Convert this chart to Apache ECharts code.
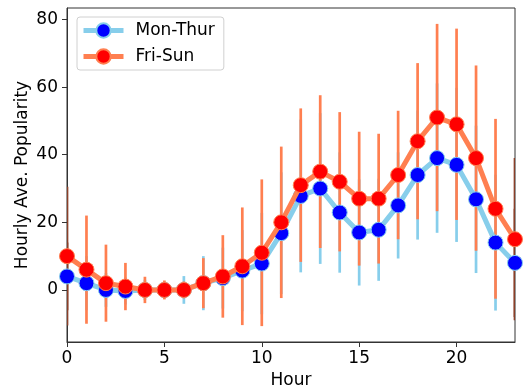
<!DOCTYPE html>
<html><head><meta charset="utf-8">
<script src="https://cdn.jsdelivr.net/npm/echarts@6/dist/echarts.min.js"></script>
<style>html,body{margin:0;padding:0;background:#fff}#c{width:524px;height:389px}</style>
</head><body><div id="c"></div>
<script>
const hours = [0,1,2,3,4,5,6,7,8,9,10,11,12,13,14,15,16,17,18,19,20,21,22,23];
const monThur = [4, 2, 0, -0.3, 0, 0, 0, 2, 3.5, 5.7, 7.8, 16.8, 27.8, 30, 22.9, 17, 17.8, 25, 34, 39, 37, 26.8, 14, 8];
const monThurErr = [10, 8, 5, 4, 3, 2.5, 4.1, 8, 9, 12, 15, 18, 22.6, 22.3, 17.8, 15.7, 15.1, 15.7, 19.1, 22.1, 22.8, 21.8, 20.1, 16];
const friSun = [10, 6, 2, 1, 0, 0, 0, 2, 4, 7, 11, 20, 31, 35, 32, 27, 27, 34, 44, 51, 49, 39, 24, 15];
const friSunErr = [20.5, 16, 11.4, 7, 3.9, 2.8, 2.5, 7.4, 12.2, 17.4, 21.7, 22.4, 22.7, 22.6, 20.6, 19.8, 19.2, 19, 23.1, 27.7, 28.3, 27.4, 26.6, 24];
const xTicks = [0, 5, 10, 15, 20];
const yTicks = [0, 20, 40, 60, 80];
const seriesNames = ['Mon-Thur', 'Fri-Sun'];

const FONT = 'DejaVu Sans';
const FS = 17;
const xMin = 0, xMax = 23, yMin = -15.4, yMax = 83.4;

function errData(vals, errs) {
  return hours.map((h, i) => [h, vals[i] - errs[i], vals[i] + errs[i]]);
}
function errSeries(vals, errs, color) {
  return {
    type: 'custom', z: 1, clip: true, silent: true,
    data: errData(vals, errs),
    encode: {x: 0, y: [1, 2]},
    renderItem: function (params, api) {
      const x = api.value(0);
      const lo = api.coord([x, api.value(1)]);
      const hi = api.coord([x, api.value(2)]);
      const edge = (x === xMin || x === xMax);
      return {
        type: 'line',
        shape: {x1: lo[0], y1: lo[1], x2: hi[0], y2: hi[1]},
        style: {stroke: edge ? '#8a3f28' : color, lineWidth: 2.7}
      };
    }
  };
}

const chart = echarts.init(document.getElementById('c'), null, {renderer: 'canvas'});
chart.setOption({
  animation: false,
  backgroundColor: '#fff',
  grid: {left: 67, right: 9, top: 8, bottom: 47, containLabel: false, outerBoundsMode: 'none',
         show: true, borderColor: '#333', borderWidth: 1, backgroundColor: 'transparent'},
  legend: {
    orient: 'vertical', left: 77, top: 17,
    padding: [5, 9, 5, 4], itemGap: 9, itemWidth: 40, itemHeight: 18,
    borderColor: '#d0d0d0', borderWidth: 1, borderRadius: 3, backgroundColor: '#fff',
    lineStyle: {width: 5},
    textStyle: {fontFamily: FONT, fontSize: FS, color: '#000', padding: [0, 0, 0, 7]},
    data: seriesNames
  },
  xAxis: {
    type: 'value', min: xMin, max: xMax,
    name: 'Hour', nameLocation: 'middle', nameGap: 30, nameMoveOverlap: false,
    nameTextStyle: {fontFamily: FONT, fontSize: FS, color: '#000'},
    axisLine: {show: true, onZero: false, lineStyle: {color: '#333', width: 1}},
    axisTick: {show: true, length: 5, inside: false, lineStyle: {color: '#333'}, customValues: xTicks},
    axisLabel: {fontFamily: FONT, fontSize: FS, color: '#000', margin: 8, customValues: xTicks},
    splitLine: {show: false}
  },
  yAxis: {
    type: 'value', min: yMin, max: yMax,
    name: 'Hourly Ave. Popularity', nameLocation: 'middle', nameGap: 36, nameMoveOverlap: false,
    nameTextStyle: {fontFamily: FONT, fontSize: FS, color: '#000'},
    axisLine: {show: true, onZero: false, lineStyle: {color: '#333', width: 1}},
    axisTick: {show: true, length: 5, inside: false, lineStyle: {color: '#333'}, customValues: yTicks},
    axisLabel: {fontFamily: FONT, fontSize: FS, color: '#000', margin: 9, customValues: yTicks},
    splitLine: {show: false}
  },
  series: [
    errSeries(monThur, monThurErr, '#87CEEB'),
    errSeries(friSun, friSunErr, '#FF7F50'),
    {
      name: seriesNames[0], type: 'line', z: 3,
      data: hours.map((h, i) => [h, monThur[i]]),
      symbol: 'circle', symbolSize: 15,
      itemStyle: {color: '#0000FF', borderColor: '#87CEEB', borderWidth: 1},
      lineStyle: {color: '#87CEEB', width: 5},
      emphasis: {disabled: true}
    },
    {
      name: seriesNames[1], type: 'line', z: 4,
      data: hours.map((h, i) => [h, friSun[i]]),
      symbol: 'circle', symbolSize: 15,
      itemStyle: {color: '#FF0000', borderColor: '#FF7F50', borderWidth: 1},
      lineStyle: {color: '#FF7F50', width: 5},
      emphasis: {disabled: true}
    }
  ]
});
</script>
</body></html>
